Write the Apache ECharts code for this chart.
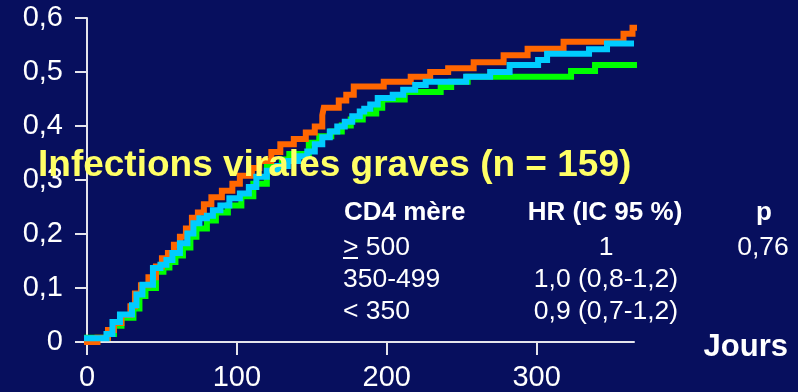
<!DOCTYPE html>
<html>
<head>
<meta charset="utf-8">
<script src="https://cdn.jsdelivr.net/npm/echarts@6/dist/echarts.min.js"></script>
<style>
  html, body { margin: 0; padding: 0; background: #070f5e; }
  #chart { width: 798px; height: 392px; }
</style>
</head>
<body>
<div id="chart"></div>
<script>
// Axis ticks and their printed labels
const xTicks = [0, 100, 200, 300];
const xTickLabels = ['0', '100', '200', '300'];
const yTicks = [0, 0.1, 0.2, 0.3, 0.4, 0.5, 0.6];
const yTickLabels = ['0', '0,1', '0,2', '0,3', '0,4', '0,5', '0,6'];

// Cumulative incidence step curves: [day, probability]
const curveOrange = [
  [0, 0], [7, 0.008], [14, 0.022], [18, 0.035], [23, 0.05], [29, 0.066], [32, 0.09],
  [36, 0.105], [41, 0.12], [46, 0.14], [50, 0.155], [54, 0.165], [58, 0.18], [62, 0.195],
  [66, 0.21], [70, 0.23], [74, 0.24], [78, 0.255], [83, 0.268], [90, 0.28], [97, 0.293],
  [102, 0.308], [110, 0.322], [115, 0.335], [123, 0.352], [129, 0.366], [138, 0.376],
  [146, 0.388], [152, 0.399], [157, 0.42], [158, 0.434], [168, 0.447], [173, 0.458],
  [178, 0.473], [198, 0.482], [216, 0.491], [229, 0.5], [241, 0.507], [258, 0.518],
  [278, 0.531], [294, 0.543], [318, 0.556], [358, 0.571], [364, 0.582], [365, 0.582]
];
const curveCyan = [
  [0, 0.007], [13, 0.015], [17, 0.037], [22, 0.051], [30, 0.068], [33, 0.088], [37, 0.106],
  [44, 0.137], [49, 0.143], [53, 0.152], [57, 0.165], [62, 0.183], [67, 0.201], [71, 0.22],
  [75, 0.229], [80, 0.234], [84, 0.244], [89, 0.253], [95, 0.266], [102, 0.275], [108, 0.287],
  [113, 0.306], [120, 0.317], [127, 0.326], [134, 0.335], [141, 0.344], [147, 0.353],
  [152, 0.366], [157, 0.379], [162, 0.39], [167, 0.399], [172, 0.408], [177, 0.418],
  [182, 0.427], [185, 0.432], [189, 0.44], [194, 0.452], [204, 0.458], [211, 0.467],
  [219, 0.476], [226, 0.482], [253, 0.491], [269, 0.5], [282, 0.513], [301, 0.522],
  [307, 0.534], [335, 0.542], [347, 0.553], [363, 0.553]
];
const curveGreen = [
  [0, 0.008], [14, 0.015], [18, 0.03], [23, 0.045], [31, 0.062], [35, 0.085], [39, 0.1],
  [46, 0.13], [51, 0.138], [55, 0.148], [59, 0.16], [64, 0.175], [69, 0.195], [73, 0.21],
  [80, 0.225], [86, 0.24], [94, 0.253], [103, 0.27], [111, 0.293], [120, 0.324], [130, 0.338],
  [135, 0.348], [148, 0.369], [155, 0.381], [163, 0.39], [170, 0.401], [176, 0.412],
  [184, 0.423], [193, 0.434], [197, 0.449], [212, 0.463], [236, 0.472], [243, 0.482],
  [254, 0.491], [323, 0.502], [339, 0.513], [366, 0.513]
];

// Annotation texts
const titleText = 'Infections virales graves (n = 159)';
const tableHeader = ['CD4 mère', 'HR (IC 95 %)', 'p'];
const groupLabels = ['> 500', '350-499', '< 350'];
const hazardRatios = ['1', '1,0 (0,8-1,2)', '0,9 (0,7-1,2)'];
const pValue = '0,76';
const xAxisName = 'Jours';

const FONT = '"Liberation Sans", Arial, sans-serif';
const AXIS_COLOR = '#e4e4ec';

const chart = echarts.init(document.getElementById('chart'), null, { renderer: 'canvas' });

function stepSeries(data, color, z) {
  return {
    type: 'line',
    step: 'end',
    data: data,
    symbol: 'none',
    z: z,
    lineStyle: { color: color, width: 6, join: 'miter', cap: 'square' },
    animation: false
  };
}

const rowY = [248, 280, 312];
const graphics = [
  {
    type: 'text', z: 100,
    style: { text: titleText, x: 38, y: 166, fill: '#ffff66', font: 'bold 37px ' + FONT, align: 'left', verticalAlign: 'middle' }
  },
  { type: 'text', z: 100, style: { text: tableHeader[0], x: 344, y: 213, fill: '#ffffff', font: 'bold 26px ' + FONT, align: 'left', verticalAlign: 'middle' } },
  { type: 'text', z: 100, style: { text: tableHeader[1], x: 605, y: 213, fill: '#ffffff', font: 'bold 26px ' + FONT, align: 'center', verticalAlign: 'middle' } },
  { type: 'text', z: 100, style: { text: tableHeader[2], x: 764, y: 213, fill: '#ffffff', font: 'bold 26px ' + FONT, align: 'center', verticalAlign: 'middle' } },
  { type: 'text', z: 100, style: { text: pValue, x: 763, y: rowY[0], fill: '#ffffff', font: '26.5px ' + FONT, align: 'center', verticalAlign: 'middle' } },
  { type: 'line', z: 100, shape: { x1: 343, y1: 258, x2: 358, y2: 258 }, style: { stroke: '#ffffff', lineWidth: 2 } },
  { type: 'text', z: 100, style: { text: xAxisName, x: 788, y: 347, fill: '#ffffff', font: 'bold 31px ' + FONT, align: 'right', verticalAlign: 'middle' } }
];
groupLabels.forEach(function (g, i) {
  graphics.push({ type: 'text', z: 100, style: { text: g, x: 343, y: rowY[i], fill: '#ffffff', font: '26.5px ' + FONT, align: 'left', verticalAlign: 'middle' } });
  graphics.push({ type: 'text', z: 100, style: { text: hazardRatios[i], x: 606, y: rowY[i], fill: '#ffffff', font: '26.5px ' + FONT, align: 'center', verticalAlign: 'middle' } });
});

chart.setOption({
  backgroundColor: '#070f5e',
  animation: false,
  grid: { left: 87, right: 164, top: 18, bottom: 47, containLabel: false },
  xAxis: {
    type: 'value',
    min: 0, max: 365, interval: 100,
    axisLine: { show: true, lineStyle: { color: AXIS_COLOR, width: 2 } },
    axisTick: { show: true, inside: false, length: 13, customValues: xTicks, lineStyle: { color: AXIS_COLOR, width: 2 } },
    axisLabel: {
      customValues: xTicks,
      margin: 21,
      color: '#ffffff',
      fontFamily: FONT,
      fontSize: 29,
      formatter: function (v) { return xTickLabels[xTicks.indexOf(v)]; }
    },
    splitLine: { show: false }
  },
  yAxis: {
    type: 'value',
    min: 0, max: 0.6, interval: 0.1,
    axisLine: { show: true, lineStyle: { color: AXIS_COLOR, width: 2 } },
    axisTick: { show: true, inside: false, length: 12, lineStyle: { color: AXIS_COLOR, width: 2 } },
    axisLabel: {
      margin: 24,
      color: '#ffffff',
      fontFamily: FONT,
      fontSize: 29,
      formatter: function (v) {
        const idx = yTicks.findIndex(function (t) { return Math.abs(t - v) < 1e-9; });
        return idx >= 0 ? yTickLabels[idx] : '';
      }
    },
    splitLine: { show: false }
  },
  series: [
    stepSeries(curveGreen, '#00ff00', 2),
    stepSeries(curveOrange, '#ff6600', 3),
    stepSeries(curveCyan, '#00ccff', 4)
  ],
  graphic: graphics
});
</script>
</body>
</html>
